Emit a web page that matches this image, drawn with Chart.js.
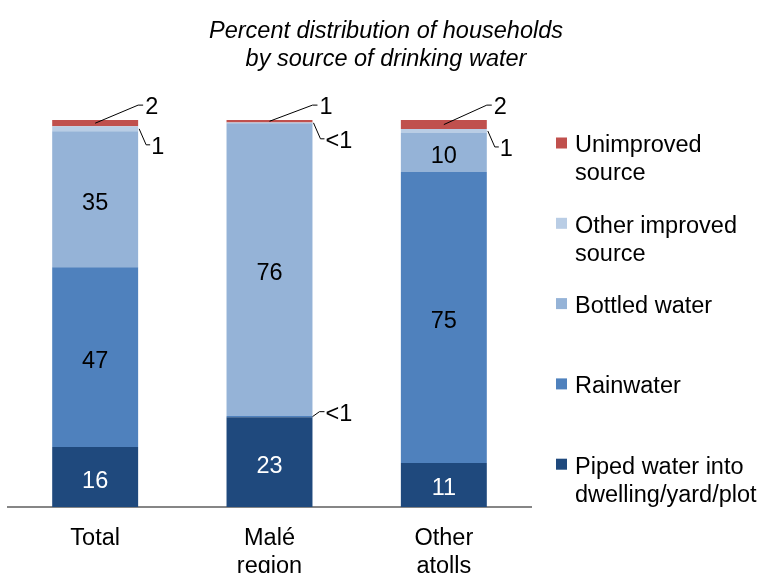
<!DOCTYPE html>
<html>
<head>
<meta charset="utf-8">
<script src="https://cdn.jsdelivr.net/npm/chart.js@4.4.0/dist/chart.umd.min.js"></script>
<style>
html, body { margin: 0; padding: 0; background: #fff; }
</style>
</head>
<body>
<canvas id="waterChart" width="764" height="573"></canvas>
<script>
// Data
var categories = [['Total'], ['Malé', 'region'], ['Other', 'atolls']];
var titleLines = ['Percent distribution of households', 'by source of drinking water'];
var seriesNames = [
    ['Piped water into', 'dwelling/yard/plot'],
    ['Rainwater'],
    ['Bottled water'],
    ['Other improved', 'source'],
    ['Unimproved', 'source']
];
var piped = [15.5, 23.2, 11.4];
var rain = [46.5, 0.3, 75.2];
var bottled = [35.1, 75.7, 10.1];
var otherImproved = [1.3, 0.2, 1.0];
var unimproved = [1.6, 0.6, 2.3];

var FONT = '"Liberation Sans", Arial, sans-serif';
var FSIZE = 23.5;

var colors = {
    piped: '#1F497D',
    rain: '#4F81BD',
    bottled: '#95B3D7',
    other: '#B9CDE5',
    unimproved: '#C0504D'
};

function fmt(v) {
    return v < 0.5 ? '<1' : String(Math.round(v));
}

// value labels, with leader lines for the thin segments
var segmentLabels = {
    id: 'segmentLabels',
    afterDatasetsDraw: function (chart) {
        var ctx = chart.ctx;
        ctx.save();
        ctx.font = FSIZE + 'px ' + FONT;
        ctx.textBaseline = 'middle';
        ctx.strokeStyle = '#000';
        ctx.lineWidth = 1;
        chart.data.datasets.forEach(function (ds, di) {
            var meta = chart.getDatasetMeta(di);
            meta.data.forEach(function (bar, i) {
                var v = ds.data[i];
                var top = Math.min(bar.y, bar.base);
                var bot = Math.max(bar.y, bar.base);
                var mid = (top + bot) / 2;
                var right = bar.x + bar.width / 2;
                var txt = fmt(v);
                if (v >= 5) {
                    ctx.fillStyle = ds.labelColor;
                    ctx.textAlign = 'center';
                    ctx.fillText(txt, bar.x, mid + 4);
                    return;
                }
                ctx.fillStyle = '#000';
                ctx.textAlign = 'left';
                ctx.beginPath();
                if (ds.callout === 'up') {
                    ctx.moveTo(bar.x, mid);
                    ctx.lineTo(right, top - 15);
                    ctx.lineTo(right + 5, top - 15);
                    ctx.stroke();
                    ctx.fillText(txt, right + 7, top - 13);
                } else if (ds.callout === 'down') {
                    ctx.moveTo(right + 1, mid);
                    ctx.lineTo(right + 8, mid + 16);
                    ctx.lineTo(right + 12, mid + 16);
                    ctx.stroke();
                    ctx.fillText(txt, right + 13, mid + 19);
                } else {
                    ctx.moveTo(right, mid);
                    ctx.lineTo(right + 7, mid - 5);
                    ctx.lineTo(right + 12, mid - 5);
                    ctx.stroke();
                    ctx.fillText(txt, right + 13, mid - 2);
                }
            });
        });
        ctx.restore();
    }
};

// title and right-hand legend
var frameText = {
    id: 'frameText',
    afterDraw: function (chart) {
        var ctx = chart.ctx;
        ctx.save();
        ctx.fillStyle = '#000';
        ctx.textBaseline = 'middle';
        ctx.textAlign = 'center';
        ctx.font = 'italic ' + FSIZE + 'px ' + FONT;
        ctx.fillText(titleLines[0], 386, 31);
        ctx.fillText(titleLines[1], 386, 59);

        ctx.font = FSIZE + 'px ' + FONT;
        ctx.textAlign = 'left';
        var items = chart.data.datasets.slice().reverse();
        items.forEach(function (ds, k) {
            var y = 143 + k * 80.3;
            ctx.fillStyle = ds.backgroundColor;
            ctx.fillRect(556, y - 5.5, 11, 11);
            ctx.fillStyle = '#000';
            ds.legendLines.forEach(function (line, j) {
                ctx.fillText(line, 575, y + 3 + j * 28);
            });
        });
        ctx.restore();
    }
};

function buildChart() {
    var ctx = document.getElementById('waterChart').getContext('2d');
    new Chart(ctx, {
        type: 'bar',
        data: {
            labels: categories,
            datasets: [
                { label: 'Piped water', data: piped, backgroundColor: colors.piped, labelColor: '#fff', callout: 'tick', legendLines: seriesNames[0] },
                { label: 'Rainwater', data: rain, backgroundColor: colors.rain, labelColor: '#000', callout: 'tick', legendLines: seriesNames[1] },
                { label: 'Bottled water', data: bottled, backgroundColor: colors.bottled, labelColor: '#000', callout: 'tick', legendLines: seriesNames[2] },
                { label: 'Other improved source', data: otherImproved, backgroundColor: colors.other, labelColor: '#000', callout: 'down', legendLines: seriesNames[3] },
                { label: 'Unimproved source', data: unimproved, backgroundColor: colors.unimproved, labelColor: '#000', callout: 'up', legendLines: seriesNames[4] }
            ]
        },
        options: {
            responsive: false,
            animation: false,
            devicePixelRatio: 1,
            layout: {
                padding: { top: 100, left: 8, right: 233, bottom: 0 }
            },
            datasets: {
                bar: {
                    categoryPercentage: 1,
                    barPercentage: 0.493,
                    borderWidth: 0
                }
            },
            plugins: {
                legend: { display: false },
                title: { display: false },
                tooltip: { enabled: false }
            },
            scales: {
                x: {
                    stacked: true,
                    grid: { display: false, drawTicks: false },
                    border: { display: true, color: '#868686', width: 2 },
                    ticks: {
                        color: '#000',
                        padding: 18,
                        maxRotation: 0,
                        font: { family: FONT, size: FSIZE, lineHeight: 28 / FSIZE }
                    },
                    afterFit: function (axis) { axis.height = 66; }
                },
                y: {
                    stacked: true,
                    display: false,
                    min: 0,
                    max: 105.2
                }
            }
        },
        plugins: [segmentLabels, frameText]
    });
}

buildChart();
</script>
</body>
</html>
